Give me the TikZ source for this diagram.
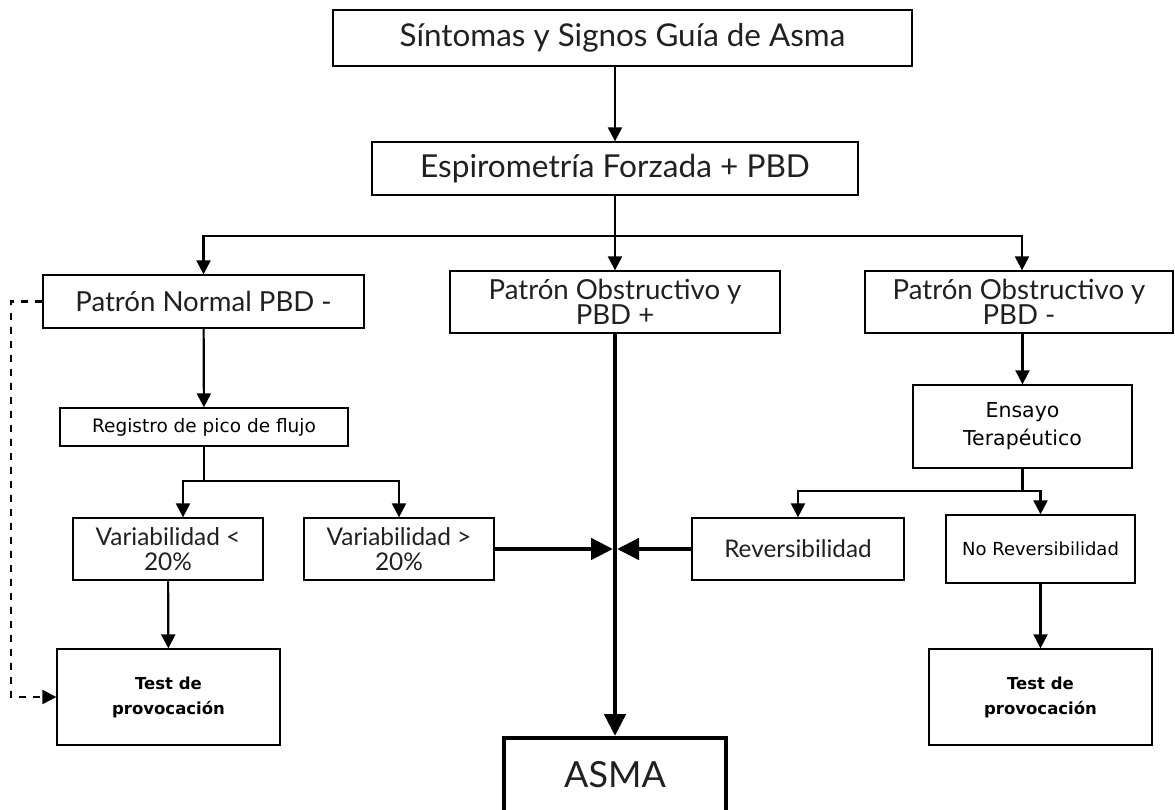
\documentclass[tikz,border=0pt]{standalone}
\usepackage{fontspec}
\newfontfamily\gillfont{Lato}
\newfontfamily\tahfont{DejaVu Sans}
\usetikzlibrary{arrows.meta}

\definecolor{ink}{RGB}{35,31,32}

\begin{document}
\begin{tikzpicture}[x=1pt,y=-1pt,>={Triangle[length=14pt,width=14pt]},
                    line width=2.2pt,
                    box/.style={draw,line width=1.3pt,inner sep=0pt,align=center,text=ink,
                                font=\gillfont\fontsize{27.6}{25}\selectfont},
                    tbox/.style={box,text=black,font=\tahfont\fontsize{18.5}{28}\selectfont},
                    testbox/.style={box,text=black,font=\tahfont\bfseries\fontsize{16.5}{25}\selectfont},
                    fat/.style={line width=4.6pt,-{Triangle[length=22pt,width=21pt]}}]

  \useasboundingbox (0,0) rectangle (1175,810);

  % first two levels
  \node[box,minimum width=579,minimum height=56,font=\gillfont\fontsize{31.4}{30}\selectfont]
        (top) at (622.5,38) {Síntomas y Signos Guía de Asma};
  \node[box,minimum width=486,minimum height=53,font=\gillfont\fontsize{31.6}{30}\selectfont]
        (espi) at (615,168.5) {Espirometría Forzada + PBD};

  \node[box,minimum width=321,minimum height=53] (norm) at (203.5,301.5) {Patrón Normal PBD -};
  \node[box,minimum width=330,minimum height=62] (obsp) at (615,302) {Patrón Obstructivo y\\PBD +};
  \node[box,minimum width=308,minimum height=62] (obsm) at (1019,302) {Patrón Obstructivo y\\PBD -};

  % left branch
  \node[tbox,minimum width=288,minimum height=38] (pico) at (204,427) {Registro de pico de flujo};
  \node[box,minimum width=190,minimum height=62,font=\gillfont\fontsize{24.4}{25}\selectfont]
        (varlo) at (168,549) {Variabilidad <\\20\%};
  \node[box,minimum width=190,minimum height=62,font=\gillfont\fontsize{24.4}{25}\selectfont]
        (varhi) at (399,549) {Variabilidad >\\20\%};
  \node[testbox,minimum width=223,minimum height=96] (test1) at (168.5,697) {Test de\\provocación};

  % right branch
  \node[tbox,minimum width=219,minimum height=83,font=\tahfont\fontsize{20.5}{28}\selectfont]
        (ensayo) at (1022.5,426.5) {Ensayo\\Terapéutico};
  \node[box,minimum width=212,minimum height=62,font=\gillfont\fontsize{24.3}{25}\selectfont]
        (rev) at (798,549) {Reversibilidad};
  \node[tbox,minimum width=189,minimum height=68,font=\tahfont\fontsize{18}{20}\selectfont]
        (norev) at (1040.5,549) {No Reversibilidad};
  \node[testbox,minimum width=223,minimum height=96] (test2) at (1040.5,697) {Test de\\provocación};

  \node[box,line width=4pt,text=ink,minimum width=222,minimum height=74,
        font=\gillfont\fontsize{36}{36}\selectfont] (asma) at (615,775) {ASMA};

  \coordinate (split) at (615,236);
  \coordinate (picosplit) at (204,481);
  \coordinate (ensplit) at (1022.5,491);
  \coordinate (meet) at (615,549);

  % connectors
  \draw[->] (espi.north |- top.south) -- (espi.north);
  \draw (espi.south) -- (split);
  \draw[->] (split) -| (norm.north);
  \draw[->] (split) -- (obsp.north);
  \draw[->] (split) -| ([xshift=3]obsm.north);

  \draw[->] (norm) -- (pico);
  \draw (pico.south) -- (picosplit);
  \draw[->] (picosplit) -| ([xshift=15]varlo.north);
  \draw[->] (picosplit) -| (varhi.north);
  \draw[->] (varlo) -- (test1);
  \draw[->,dashed,dash pattern=on 7pt off 7pt] (norm.west) -- ++(-31,0) |- (test1.west);

  \draw[->] (ensayo.north |- obsm.south) -- (ensayo.north);
  \draw (ensayo.south) -- (ensplit);
  \draw[->] (ensplit) -| (rev.north);
  \draw[->] (ensplit) -| (norev.north);
  \draw[->] (norev) -- (test2);

  \draw[fat] (obsp.south) -- (asma.north);
  \draw[fat] (varhi.east) -- ([xshift=-2]meet);
  \draw[fat] (rev.west) -- ([xshift=2]meet);
\end{tikzpicture}
\end{document}
